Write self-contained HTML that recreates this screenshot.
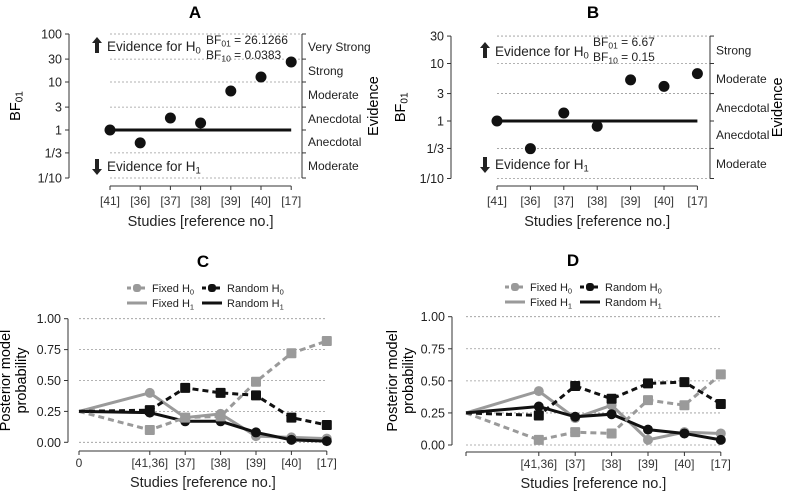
<!DOCTYPE html>
<html><head><meta charset="utf-8"><style>
body{margin:0;background:#fff}
svg{display:block;font-family:"Liberation Sans",Arial,sans-serif}
</style></head><body>
<svg id="s" width="787" height="497" viewBox="0 0 787 497" xmlns="http://www.w3.org/2000/svg"></svg>
<script>
const studiesAB = ["[41]","[36]","[37]","[38]","[39]","[40]","[17]"];
const bfA = [1, 0.54, 1.78, 1.4, 6.5, 12.7, 26.1];
const bfB = [1, 0.33, 1.38, 0.81, 5.2, 4.0, 6.67];
const ticksA = [100,30,10,3,1,1/3,1/10];
const tickLabA = ["100","30","10","3","1","1/3","1/10"];
const ticksB = [30,10,3,1,1/3,1/10];
const tickLabB = ["30","10","3","1","1/3","1/10"];
const evidA = ["Very Strong","Strong","Moderate","Anecdotal","Anecdotal","Moderate"];
const evidB = ["Strong","Moderate","Anecdotal","Anecdotal","Moderate"];
const studiesCD = ["0","[41,36]","[37]","[38]","[39]","[40]","[17]"];
const posCD = [0,2,3,4,5,6,7];
const cFixedH0 = [0.25,0.10,0.20,0.21,0.49,0.72,0.82];
const cFixedH1 = [0.25,0.40,0.20,0.23,0.05,0.04,0.03];
const cRandH0 = [0.25,0.26,0.44,0.40,0.38,0.20,0.14];
const cRandH1 = [0.25,0.24,0.17,0.17,0.08,0.02,0.01];
const dFixedH0 = [0.25,0.04,0.10,0.09,0.35,0.31,0.55];
const dFixedH1 = [0.25,0.42,0.21,0.31,0.04,0.10,0.09];
const dRandH0 = [0.25,0.23,0.46,0.36,0.48,0.49,0.32];
const dRandH1 = [0.25,0.30,0.22,0.24,0.12,0.09,0.04];
const probTicks = [0,0.25,0.5,0.75,1];
const probLab = ["0.00","0.25","0.50","0.75","1.00"];

const S=document.getElementById('s');const NS="http://www.w3.org/2000/svg";
function el(t,a,txt,p){const e=document.createElementNS(NS,t);for(const k in a)e.setAttribute(k,a[k]);if(txt!=null)e.innerHTML=txt;(p||S).appendChild(e);return e;}
function named(e,n,i){return e;}
function sub(s,fs,rest){return '<tspan font-size="'+fs+'" dy="2.5">'+s+'</tspan><tspan dy="-2.5">'+(rest||'')+'</tspan>';}

function bfPanel(o){
  const g=el('g',{});
  named(g,o.id+'-panel');
  const y=v=>o.y1-Math.log10(v)*o.dec;
  const x=i=>o.x0+i*o.dx;
  const xr=x(o.data.length-1);
  named(el('text',{x:o.tx,y:o.ty,'font-size':17,'font-weight':'bold','text-anchor':'middle'},o.title,g),'panel-title');
  const yt=y(o.ticks[0]),yb=y(o.ticks[o.ticks.length-1]);
  named(el('line',{x1:o.ax,y1:yt,x2:o.ax,y2:yb,stroke:'#333','stroke-width':1},null,g),'y-axis');
  o.ticks.forEach((t,i)=>{
    el('line',{x1:o.ax-4,y1:y(t),x2:o.ax,y2:y(t),stroke:'#333'},null,g);
    named(el('text',{x:o.ax-7,y:y(t)+4.5,'font-size':12.5,'text-anchor':'end',fill:'#222'},o.tickLab[i],g),'y-tick-label');
    if(t!==1) named(el('line',{x1:x(0),y1:y(t),x2:xr+12,y2:y(t),stroke:'#999','stroke-dasharray':'2,2','stroke-width':0.8},null,g),'gridline');
    el('line',{x1:o.bx,y1:y(t),x2:o.bx+4,y2:y(t),stroke:'#333'},null,g);
  });
  named(el('line',{x1:o.bx,y1:yt,x2:o.bx,y2:yb,stroke:'#333'},null,g),'evidence-bracket');
  for(let i=0;i<o.evid.length;i++){
    const ym=(y(o.ticks[i])+y(o.ticks[i+1]))/2;
    named(el('text',{x:o.bx+6,y:ym+4.5,'font-size':12,fill:'#222'},o.evid[i],g),'evidence-label');
  }
  named(el('text',{x:o.ex,y:(yt+yb)/2,'font-size':14.5,'text-anchor':'middle',transform:`rotate(-90 ${o.ex} ${(yt+yb)/2})`},'Evidence',g),'evidence-axis-title');
  named(el('text',{x:o.lx,y:(yt+yb)/2,'font-size':14.5,'text-anchor':'middle',transform:`rotate(-90 ${o.lx} ${(yt+yb)/2})`},'BF'+sub('01',10),g),'y-axis-title');
  named(el('line',{x1:x(0),y1:o.xay,x2:xr,y2:o.xay,stroke:'#333'},null,g),'x-axis');
  o.data.forEach((v,i)=>{
    el('line',{x1:x(i),y1:o.xay,x2:x(i),y2:o.xay+4,stroke:'#333'},null,g);
    named(el('text',{x:x(i),y:o.xay+19,'font-size':12,'text-anchor':'middle',fill:'#333'},o.labels[i],g),'x-tick-label');
  });
  named(el('text',{x:(x(0)+xr)/2,y:o.xay+40,'font-size':14.5,'text-anchor':'middle',fill:'#222'},'Studies [reference no.]',g),'x-axis-title');
  named(el('line',{x1:x(0),y1:y(1),x2:xr,y2:y(1),stroke:'#111','stroke-width':3},null,g),'reference-line');
  o.data.forEach((v,i)=>{named(el('circle',{cx:x(i),cy:y(v),r:5.5,fill:'#111'},null,g),'bf-point');});
  const ay=o.hy;
  named(el('path',{d:`M${o.arx},${ay-9} l-5,6 h3 v10 h4 v-10 h3 z`,fill:'#222'},null,g),'up-arrow');
  named(el('text',{x:o.arx+10,y:ay+5,'font-size':13.5,fill:'#222'},'Evidence for H'+sub('0',9.5),g),'evidence-h0-label');
  const by=o.h1y;
  named(el('path',{d:`M${o.arx},${by+9} l-5,-6 h3 v-10 h4 v10 h3 z`,fill:'#222'},null,g),'down-arrow');
  named(el('text',{x:o.arx+10,y:by+5,'font-size':13.5,fill:'#222'},'Evidence for H'+sub('1',9.5),g),'evidence-h1-label');
  named(el('text',{x:o.bfx,y:o.bfy,'font-size':12,fill:'#222'},'BF'+sub('01',8.5,' = '+o.bf01),g),'bf01-annotation');
  named(el('text',{x:o.bfx,y:o.bfy+15,'font-size':12,fill:'#222'},'BF'+sub('10',8.5,' = '+o.bf10),g),'bf10-annotation');
}
bfPanel({id:'a',title:'A',tx:195,ty:18,data:bfA,labels:studiesAB,ticks:ticksA,tickLab:tickLabA,evid:evidA,
 y1:130,dec:48,x0:110,dx:30.2,ax:69,bx:302,ex:378,lx:20,xay:186,arx:97,hy:46,h1y:166,bfx:206,bfy:44,bf01:'26.1266',bf10:'0.0383'});
bfPanel({id:'b',title:'B',tx:593,ty:18,data:bfB,labels:studiesAB,ticks:ticksB,tickLab:tickLabB,evid:evidB,
 y1:121,dec:57.5,x0:497,dx:33.4,ax:451,bx:710,ex:782,lx:405,xay:186,arx:485,hy:51,h1y:164,bfx:593,bfy:46,bf01:'6.67',bf10:'0.15'});

function probPanel(o){
  const g=el('g',{});
  named(g,o.id+'-panel');
  const x=p=>o.x0+p*o.dx, y=v=>o.y0-v*(o.y0-o.y1);
  const xr=x(posCD[posCD.length-1]);
  named(el('text',{x:o.tx,y:o.ty,'font-size':17,'font-weight':'bold','text-anchor':'middle'},o.title,g),'panel-title');
  named(el('line',{x1:o.ax,y1:y(1),x2:o.ax,y2:y(0),stroke:'#333'},null,g),'y-axis');
  probTicks.forEach((t,i)=>{
    el('line',{x1:o.ax-4,y1:y(t),x2:o.ax,y2:y(t),stroke:'#333'},null,g);
    named(el('text',{x:o.ax-7,y:y(t)+4.5,'font-size':12.5,'text-anchor':'end',fill:'#222'},probLab[i],g),'y-tick-label');
    named(el('line',{x1:x(0),y1:y(t),x2:xr,y2:y(t),stroke:'#999','stroke-dasharray':'2,2','stroke-width':0.8},null,g),'gridline');
  });
  const cy=(y(0)+y(1))/2;
  named(el('text',{x:o.lx,y:cy,'font-size':14.5,'text-anchor':'middle',transform:`rotate(-90 ${o.lx} ${cy})`},'Posterior model',g),'y-axis-title');
  el('text',{x:o.lx+16,y:cy,'font-size':14.5,'text-anchor':'middle',transform:`rotate(-90 ${o.lx+16} ${cy})`},'probability',g);
  named(el('line',{x1:x(0),y1:o.xay,x2:xr,y2:o.xay,stroke:'#333'},null,g),'x-axis');
  posCD.forEach((p,i)=>{
    el('line',{x1:x(p),y1:o.xay,x2:x(p),y2:o.xay+4,stroke:'#333'},null,g);
    if(i>0||o.zero) named(el('text',{x:x(p),y:o.xay+16,'font-size':12,'text-anchor':'middle',fill:'#333'},studiesCD[i],g),'x-tick-label');
  });
  named(el('text',{x:(x(0)+xr)/2,y:o.xay+36,'font-size':14.5,'text-anchor':'middle',fill:'#222'},'Studies [reference no.]',g),'x-axis-title');
  const series=[[o.fh1,'#9a9a9a',null,'c','fixed-h1'],[o.rh1,'#111',null,'c','random-h1'],[o.fh0,'#9a9a9a','6,4','s','fixed-h0'],[o.rh0,'#111','6,4','s','random-h0']];
  series.forEach(([d,c,da,m,n])=>{
    const pts=d.map((v,i)=>x(posCD[i])+','+y(v)).join(' ');
    const a={points:pts,fill:'none',stroke:c,'stroke-width':3};if(da)a['stroke-dasharray']=da;
    named(el('polyline',a,null,g),n+'-line');
    d.forEach((v,i)=>{if(i===0)return;
      if(m==='c') named(el('circle',{cx:x(posCD[i]),cy:y(v),r:5,fill:c},null,g),n+'-point');
      else named(el('rect',{x:x(posCD[i])-5,y:y(v)-5,width:10,height:10,fill:c,rx:1},null,g),n+'-point');
    });
  });
  const lx=o.legx, ly=o.legy;
  const leg=[['Fixed H','0','#9a9a9a','4,3',true,0,0],['Random H','0','#111','4,3',true,1,0],['Fixed H','1','#9a9a9a',null,false,0,1],['Random H','1','#111',null,false,1,1]];
  leg.forEach(([t,s,c,da,mk,col,row])=>{
    const gx=lx+col*75, gy=ly+row*15;
    const a={x1:gx,y1:gy,x2:gx+20,y2:gy,stroke:c,'stroke-width':3};if(da)a['stroke-dasharray']=da;
    named(el('line',a,null,g),'legend-swatch');
    if(mk) el('rect',{x:gx+6,y:gy-4,width:8,height:8,rx:3,fill:c},null,g);
    named(el('text',{x:gx+25,y:gy+4,'font-size':11,fill:'#222'},t+sub(s,7.5),g),'legend-entry');
  });
}
probPanel({id:'c',title:'C',tx:203,ty:267,x0:79,dx:35.4,y0:442.3,y1:318.7,ax:68,lx:10,xay:451,zero:true,legx:127,legy:288,
 fh0:cFixedH0,fh1:cFixedH1,rh0:cRandH0,rh1:cRandH1});
probPanel({id:'d',title:'D',tx:573,ty:266,x0:466,dx:36.4,y0:445,y1:316.7,ax:452,lx:397,xay:452,zero:false,legx:505,legy:287,
 fh0:dFixedH0,fh1:dFixedH1,rh0:dRandH0,rh1:dRandH1});
</script>
</body></html>
